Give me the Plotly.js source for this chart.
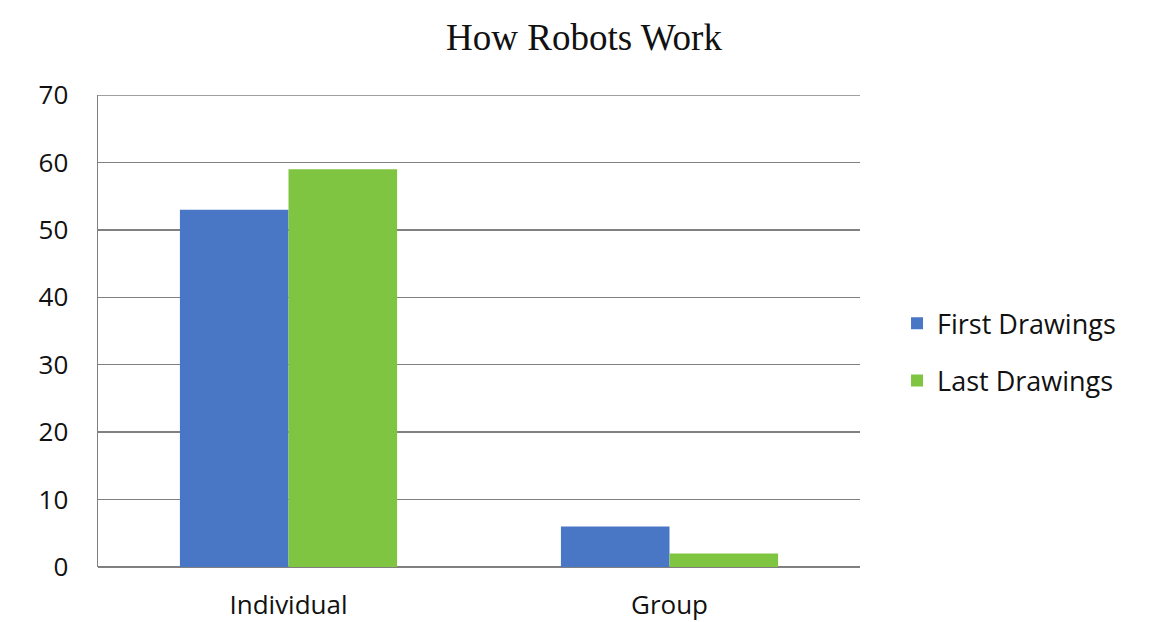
<!DOCTYPE html>
<html>
<head>
<meta charset="utf-8">
<script src="https://cdn.plot.ly/plotly-3.0.1.min.js"></script>
<style>html,body{margin:0;padding:0;background:#fff;}#chart{width:1168px;height:622px;}</style>
</head>
<body>
<div id="chart"></div>
<script>
const categories = ["Individual", "Group"];
const firstDrawings = [53, 6];
const lastDrawings = [59, 2];
const seriesNames = ["First Drawings", "Last Drawings"];
const yTicks = [0, 10, 20, 30, 40, 50, 60, 70];
const yMax = 70;

const traces = [
  {type: "bar", name: seriesNames[0], legendgroup: "a", x: categories, y: firstDrawings, marker: {color: "#4a76c6"}},
  {type: "bar", name: seriesNames[1], legendgroup: "b", x: categories, y: lastDrawings, marker: {color: "#7fc542"}}
];

const layout = {
  width: 1168, height: 622,
  margin: {l: 98, r: 308, t: 95, b: 55},
  paper_bgcolor: "#ffffff", plot_bgcolor: "#ffffff",
  title: {text: "How Robots Work", font: {family: "Liberation Serif, Times New Roman, serif", size: 37, color: "#111"}, x: 0.5, xanchor: "center", xref: "container", y: 0.94, yanchor: "middle"},
  barmode: "group", bargap: 0.43, bargroupgap: 0,
  font: {family: "Open Sans, sans-serif", size: 26, color: "#111"},
  xaxis: {showline: false, showgrid: false, ticks: "", ticklabelstandoff: 20, fixedrange: true},
  yaxis: {range: [0, yMax], tickvals: yTicks, showgrid: true, gridcolor: "#808080", gridwidth: 1.3,
          showline: true, linecolor: "#808080", linewidth: 1.5, zeroline: true, zerolinecolor: "#808080", zerolinewidth: 1.5,
          ticks: "", ticklabelstandoff: 23, fixedrange: true},
  shapes: [{type: "line", xref: "paper", yref: "y", x0: 0, x1: 1, y0: yMax, y1: yMax, line: {color: "#808080", width: 1.3}}],
  legend: {x: 1.0486, y: 0.455, xanchor: "left", yanchor: "middle", font: {size: 27, color: "#111"},
           traceorder: "grouped", tracegroupgap: 19, itemwidth: 30},
  showlegend: true
};

Plotly.newPlot("chart", traces, layout, {displayModeBar: false, staticPlot: true});
</script>
</body>
</html>
